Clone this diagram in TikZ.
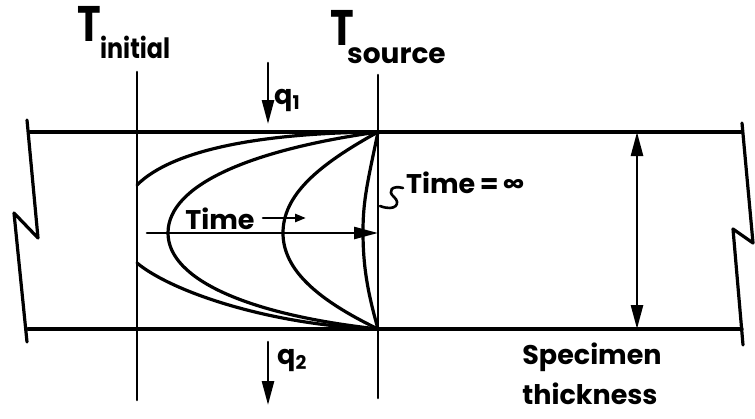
\documentclass[tikz,border=0pt]{standalone}
\usepackage{fontspec}
\setmainfont{Poppins}
\usetikzlibrary{arrows.meta}
\begin{document}
\begin{tikzpicture}[x=1pt,y=-1pt,
  thick line/.style={line width=3.2pt,line cap=round,line join=round},
  thin line/.style={line width=2.6pt,line cap=round},
  bigtip/.style={-{Triangle[length=24pt,width=12pt]}},
  dbltip/.style={{Triangle[length=24pt,width=12pt]}-{Triangle[length=24pt,width=12pt]}},
  smalltip/.style={-{Triangle[length=11pt,width=8pt]}},
  lbl/.style={inner sep=0pt,font=\fontsize{27}{30}\selectfont\bfseries},
  bigT/.style={inner sep=0pt,font=\fontsize{50}{54}\selectfont\bfseries,xscale=0.8},
  subs/.style={inner sep=0pt,font=\fontsize{28}{32}\selectfont\bfseries}]
\useasboundingbox (0,0) rectangle (755,418);
% key coordinates
\coordinate (TL) at (30,132);
\coordinate (TR) at (741,132);
\coordinate (BL) at (28,329);
\coordinate (BR) at (742,329);
\coordinate (IT) at (137,72);
\coordinate (IB) at (137,400);
\coordinate (ST) at (378,75);
\coordinate (SB) at (378,398);
\coordinate (C1) at (378,132);
\coordinate (C2) at (378,329);
% specimen faces
\draw[thick line] (TL) -- (TR);
\draw[thick line] (BL) -- (BR);
% break lines
\draw[thick line] (27,120) -- (38,238) -- (14,213) -- (27,342);
\draw[thick line] (742,123) -- (753,243) -- (733,229) -- (743,345);
% temperature axes
\draw[thin line] (IT) -- (IB);
\draw[thin line] (ST) -- (SB);
% profiles
\draw[thick line] (137,185) .. controls (172,150) and (260,133) .. (C1);
\draw[thick line] (137,263) .. controls (172,292) and (270,325) .. (C2);
\draw[thick line] (C1) .. controls (250,150) and (168,185) .. (168,233)
                      .. controls (168,280) and (250,315) .. (C2);
\draw[thick line] (C1) .. controls (318,165) and (283,195) .. (283,233)
                      .. controls (283,270) and (318,300) .. (C2);
\draw[thick line] (C1) .. controls (368,180) and (363,200) .. (363,231)
                      .. controls (363,265) and (367,290) .. (C2);
% time arrow
\coordinate (HA) at (147,233);
\coordinate (HB) at (378,233);
\draw[thin line,bigtip] (HA) -- (HB);
\node[lbl] (time) at (220,219) {Time};
\coordinate (sa) at (263,218);
\coordinate (sb) at (306,218);
\draw[thin line,smalltip] (sa) -- (sb);
% time = infinity
\node[lbl,anchor=west] (tinf) at (406,183) {Time\,=\,∞};
\coordinate (lead) at (380,206);
\draw[thin line] (lead) .. controls (396,212) and (401,203) .. (394,197)
                 .. controls (387,191) and (392,185) .. (403,188);
% thickness arrow
\coordinate (DA) at (637,132);
\coordinate (DB) at (637,329);
\draw[thin line,dbltip] (DA) -- (DB);
% heat fluxes
\coordinate (q1a) at (268,63);
\coordinate (q1b) at (268,124);
\draw[thin line,bigtip] (q1a) -- (q1b);
\node[lbl,anchor=west] (q1) at (274,100) {q\textsubscript{1}};
\coordinate (q2a) at (268,342);
\coordinate (q2b) at (268,405);
\draw[thin line,bigtip] (q2a) -- (q2b);
\node[lbl,anchor=west] (q2) at (277,360) {q\textsubscript{2}};
% labels
\node[bigT,anchor=north west] (Ti) at (77,6) {T};
\node[subs,anchor=base west,xscale=0.85] (ini) at (100,58) {initial};
\node[bigT,anchor=north west] (Ts) at (330,10) {T};
\node[subs,anchor=base west] (src) at (347,63) {source};
\node[lbl] (spec) at (592,357) {Specimen};
\node[lbl] (thick) at (590,394) {thickness};
\end{tikzpicture}
\end{document}
